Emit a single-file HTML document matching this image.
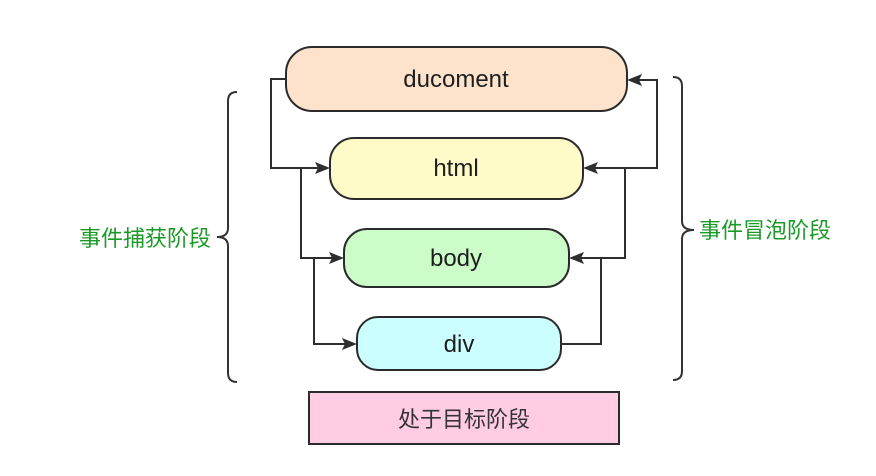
<!DOCTYPE html>
<html>
<head>
<meta charset="utf-8">
<style>
  html,body{margin:0;padding:0;background:#fff;}
  svg{display:block;}
  .lbl{font-family:"Liberation Sans","Noto Sans CJK SC",sans-serif;}
</style>
</head>
<body>
<svg width="876" height="476" viewBox="0 0 876 476" xmlns="http://www.w3.org/2000/svg">
  <rect x="0" y="0" width="876" height="476" fill="#ffffff"/>

  <!-- boxes -->
  <rect x="286" y="47" width="341" height="64" rx="26" ry="26" fill="#fde3cc" stroke="#2b2b2b" stroke-width="2"/>
  <rect x="330" y="138" width="253" height="61" rx="24" ry="24" fill="#fffbc8" stroke="#2b2b2b" stroke-width="2"/>
  <rect x="344" y="229" width="225" height="58" rx="23" ry="23" fill="#ccfcc8" stroke="#2b2b2b" stroke-width="2"/>
  <rect x="357" y="317" width="204" height="53" rx="21" ry="21" fill="#ccffff" stroke="#2b2b2b" stroke-width="2"/>
  <rect x="309" y="392" width="310" height="52" fill="#ffcce4" stroke="#2b2b2b" stroke-width="2"/>

  <!-- box texts -->
  <g class="lbl" font-size="24" fill="#1e1e1e" text-anchor="middle">
    <text x="456" y="87">ducoment</text>
    <text x="456" y="176">html</text>
    <text x="456" y="266">body</text>
    <text x="459" y="352">div</text>
  </g>
  <text class="lbl" x="464" y="427" font-size="22" fill="#333" text-anchor="middle">处于目标阶段</text>

  <!-- connectors -->
  <g fill="none" stroke="#2e2e2e" stroke-width="2">
    <path d="M286,79 L271,79 L271,168 L320,168"/>
    <path d="M301,168 L301,258 L334,258"/>
    <path d="M314,258 L314,344 L347,344"/>
    <path d="M561,344 L601,344 L601,258 L579,258"/>
    <path d="M601,258 L625,258 L625,168 L593,168"/>
    <path d="M625,168 L657,168 L657,80 L637,80"/>
  </g>
  <g fill="#2e2e2e">
    <polygon points="330,168 315,162 318,168 315,174"/>
    <polygon points="344,258 329,252 332,258 329,264"/>
    <polygon points="357,344 342,338 345,344 342,350"/>
    <polygon points="569,258 584,252 581,258 584,264"/>
    <polygon points="583,168 598,162 595,168 598,174"/>
    <polygon points="627,80 642,74 639,80 642,86"/>
  </g>

  <!-- braces -->
  <g fill="none" stroke="#333" stroke-width="2">
    <path d="M237,92 Q228,92 228,101 L228,228 Q228,237 217,237 Q228,237 228,246 L228,373 Q228,382 237,382"/>
    <path d="M673,77 Q682,77 682,86 L682,221 Q682,230 694,230 Q682,230 682,239 L682,371 Q682,380 673,380"/>
  </g>

  <!-- side labels -->
  <text class="lbl" x="79" y="246" font-size="22" fill="#1c9a28">事件捕获阶段</text>
  <text class="lbl" x="699" y="238" font-size="22" fill="#1c9a28">事件冒泡阶段</text>
</svg>
</body>
</html>
